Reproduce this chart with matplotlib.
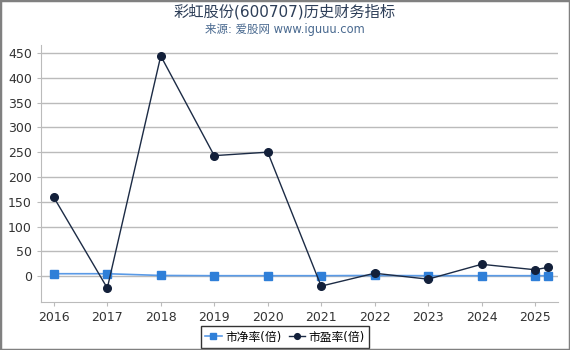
import matplotlib
matplotlib.use("Agg")
import matplotlib.pyplot as plt
from matplotlib.patches import Rectangle

plt.rcParams['font.family'] = ['DejaVu Sans', 'Noto Sans CJK SC']

x_pos = [2016, 2017, 2018, 2019, 2020, 2021, 2022, 2023, 2024, 2025, 2025.25]
pb = [5, 5, 1.5, 1, 1, 1, 1.5, 1, 1, 1, 1]
pe = [159, -24, 444, 243, 250, -20, 6, -6, 24, 13, 18]
xticks = [2016, 2017, 2018, 2019, 2020, 2021, 2022, 2023, 2024, 2025]
yticks = [0, 50, 100, 150, 200, 250, 300, 350, 400, 450]

fig = plt.figure(figsize=(5.7, 3.5), dpi=100)
ax = fig.add_axes([41/570, 1-302/350, (558-41)/570, (302-45)/350])

ax.plot(x_pos, pb, color='#5a9ae6', lw=1.2, marker='s', ms=5.5,
        mfc='#2f7fd8', mec='#2f7fd8', label='市净率(倍)', zorder=3)
ax.plot(x_pos, pe, color='#1c2b45', lw=1.0, marker='o', ms=5.5,
        mfc='#13203a', mec='#13203a', label='市盈率(倍)', zorder=4)

ax.set_xlim(2015.76, 2025.43)
ax.set_ylim(-52, 466)
ax.set_xticks(xticks)
ax.set_xticklabels([str(t) for t in xticks])
ax.set_yticks(yticks)
ax.grid(axis='y', color='#bbbbbb', lw=1)
ax.set_axisbelow(True)
for s in ['top', 'right']:
    ax.spines[s].set_visible(False)
for s in ['left', 'bottom']:
    ax.spines[s].set_color('#bbbbbb')
ax.tick_params(axis='both', colors='#bbbbbb', labelcolor='#333333', labelsize=9, length=3)

fig.text(0.5, 1-12/350, '彩虹股份(600707)历史财务指标', ha='center', va='center',
         fontsize=11, color='#2d3e58')
fig.text(0.5, 1-29/350, '来源: 爱股网 www.iguuu.com', ha='center', va='center',
         fontsize=8.3, color='#4a6a90')

leg = fig.legend(loc='center', bbox_to_anchor=(285/570, 1-337/350), ncol=2,
                 fontsize=8.5, frameon=True, fancybox=False, edgecolor='black',
                 handlelength=1.4, handletextpad=0.3, columnspacing=0.6,
                 borderpad=0.35, markerscale=0.75)
leg.get_frame().set_linewidth(1.0)

fig.patches.append(Rectangle((0, 0), 1, 1, transform=fig.transFigure, fill=False,
                             edgecolor='#808080', lw=2.5, zorder=10))

fig.savefig('out.png', dpi=100)
